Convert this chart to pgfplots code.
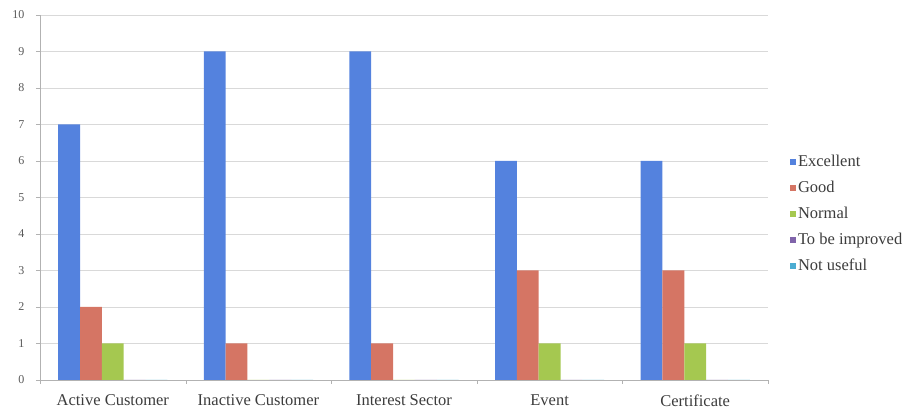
\documentclass[border=0pt]{standalone}
\usepackage{pgfplots}
\pgfplotsset{compat=1.18}
\usepackage{fontspec}
\setmainfont{Liberation Serif}
\definecolor{cBlue}{RGB}{84,130,222}
\definecolor{cRed}{RGB}{213,117,100}
\definecolor{cGreen}{RGB}{165,200,80}
\definecolor{cPurple}{RGB}{128,100,170}
\definecolor{cCyan}{RGB}{75,172,210}
\definecolor{txt}{RGB}{60,60,60}
\begin{document}
\begin{tikzpicture}
\path[use as bounding box] (-40pt,-34pt) rectangle (875pt,380pt);
\begin{axis}[
  scale only axis,
  width=728pt, height=365pt,
  at={(0pt,0pt)}, anchor=south west,
  ybar=0pt, bar width=0.15,
  xmin=-0.5, xmax=4.5,
  ymin=0, ymax=10,
  ytick={0,1,...,10},
  xtick={0,1,2,3,4},
  xticklabels={Active Customer, Inactive Customer, Interest Sector, Event, Certificate},
  minor xtick={-0.5,0.5,1.5,2.5,3.5,4.5},
  major x tick style={draw=none},
  minor tick length=4pt,
  major tick length=4pt,
  tick align=outside,
  axis x line*=bottom, axis y line*=left,
  axis line style={draw=gray!60},
  tick style={draw=gray!60},
  ymajorgrids, grid style={draw=gray!30},
  /pgf/number format/assume math mode=true,
  xticklabel style={font=\fontsize{16.5}{19}\selectfont, text=txt, yshift=-7pt},
  yticklabel style={font=\fontsize{12}{14}\selectfont, text=gray!70!black, xshift=-8pt},
  legend style={at={(1.03,0.455)}, anchor=west, draw=none, fill=none,
    font=\fontsize{16.5}{19}\selectfont, text=txt, row sep=9pt,
    cells={anchor=west}, inner xsep=0pt},
  legend image code/.code={\fill[#1] (2pt,-3pt) rectangle (8pt,3pt);},
  every axis plot/.append style={draw=none},
]
\addplot[fill=cBlue] coordinates {(0,7) (1,9) (2,9) (3,6) (4,6)};
\addplot[fill=cRed] coordinates {(0,2) (1,1) (2,1) (3,3) (4,3)};
\addplot[fill=cGreen] coordinates {(0,1) (1,0) (2,0) (3,1) (4,1)};
\addplot[fill=cPurple] coordinates {(0,0) (1,0) (2,0) (3,0) (4,0)};
\addplot[fill=cCyan] coordinates {(0,0) (1,0) (2,0) (3,0) (4,0)};
\legend{Excellent, Good, Normal, To be improved, Not useful}
\end{axis}
\end{tikzpicture}
\end{document}
